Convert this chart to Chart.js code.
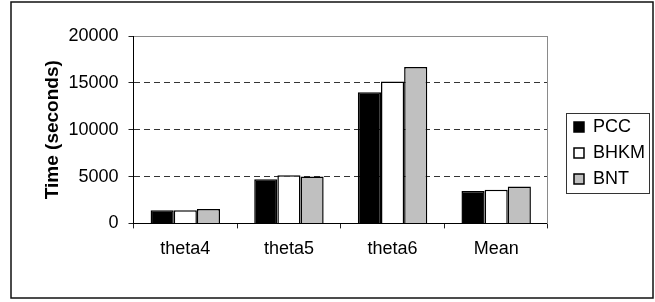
<!DOCTYPE html>
<html>
<head>
<meta charset="utf-8">
<script src="https://cdn.jsdelivr.net/npm/chart.js@4"></script>
<style>
  html, body { margin: 0; padding: 0; background: #fff; }
  #wrap { width: 655px; height: 302px; position: relative; }
</style>
</head>
<body>
<div id="wrap"><canvas id="chart"></canvas></div>
<script>
const categories = ["theta4", "theta5", "theta6", "Mean"];
const pccTimes = [1400, 4700, 14000, 3450];
const bhkmTimes = [1400, 5150, 15150, 3600];
const bntTimes = [1550, 5000, 16700, 3950];
const yTicks = [0, 5000, 10000, 15000, 20000];

const FONT = "'Liberation Sans', Arial, sans-serif";

// outer frame + box round the legend
const framePlugin = {
  id: "frame",
  afterDraw(chart) {
    const ctx = chart.ctx;
    ctx.save();
    ctx.strokeStyle = "#111";
    ctx.lineWidth = 1.5;
    ctx.strokeRect(11, 2, chart.width - 13, chart.height - 6);

    const boxes = chart.legend.legendHitBoxes;
    if (boxes && boxes.length) {
      const first = boxes[0];
      const last = boxes[boxes.length - 1];
      const maxW = Math.max(...boxes.map((b) => b.width));
      ctx.strokeStyle = "#333";
      ctx.lineWidth = 1;
      const left = Math.round(first.left - 8) + 0.5;
      const top = Math.round(first.top - 5) + 0.5;
      const right = Math.round(first.left + maxW + 4) + 0.5;
      const bottom = Math.round(last.top + last.height + 5) + 0.5;
      ctx.strokeRect(left, top, right - left, bottom - top);
    }
    ctx.restore();
  },
};

new Chart(document.getElementById("chart"), {
  type: "bar",
  data: {
    labels: categories,
    datasets: [
      {
        label: "PCC",
        data: pccTimes,
        backgroundColor: "#000000",
        borderColor: "#000000",
        borderWidth: 1.5,
      },
      {
        label: "BHKM",
        data: bhkmTimes,
        backgroundColor: "#ffffff",
        borderColor: "#000000",
        borderWidth: 1.5,
      },
      {
        label: "BNT",
        data: bntTimes,
        backgroundColor: "#c0c0c0",
        borderColor: "#000000",
        borderWidth: 1.5,
      },
    ],
  },
  options: {
    responsive: true,
    maintainAspectRatio: false,
    animation: false,
    datasets: {
      bar: { categoryPercentage: 0.67, barPercentage: 1.0 },
    },
    layout: {
      padding: { left: 37.5, top: 36, right: 0, bottom: 32 },
    },
    plugins: {
      tooltip: { enabled: false },
      legend: {
        position: "right",
        align: "center",
        labels: {
          boxWidth: 10,
          boxHeight: 10,
          padding: 8,
          color: "#000",
          font: { family: FONT, size: 18, lineHeight: 1.33 },
        },
      },
    },
    scales: {
      x: {
        offset: true,
        grid: {
          offset: true,
          drawOnChartArea: false,
          drawTicks: true,
          tickLength: 5,
          tickColor: "#222",
        },
        border: { display: true, color: "#000", width: 1 },
        ticks: {
          color: "#000",
          padding: 10,
          font: { family: FONT, size: 18 },
        },
      },
      xTop: {
        position: "top",
        display: true,
        afterFit: (scale) => {
          scale.height = 0;
        },
        grid: { display: false, drawTicks: false },
        ticks: { display: false },
        border: { display: true, color: "#8a8a8a", width: 1 },
      },
      y: {
        min: 0,
        max: 20000,
        afterBuildTicks: (scale) => {
          scale.ticks = yTicks.map((v) => ({ value: v }));
        },
        afterFit: (scale) => {
          scale.width = 96;
        },
        grid: {
          color: (c) =>
            c.tick.value === 0 || c.tick.value === 20000 ? "rgba(0,0,0,0)" : "#333",
          tickBorderDash: [],
          tickColor: "#222",
          tickLength: 5,
          lineWidth: 1,
        },
        border: { display: true, color: "#000", width: 1, dash: [6, 4] },
        ticks: {
          color: "#000",
          padding: 10,
          font: { family: FONT, size: 18 },
          callback: (v) => String(v),
        },
        title: {
          display: true,
          text: "Time (seconds)",
          color: "#000",
          font: { family: FONT, size: 19, weight: "bold" },
        },
      },
      yRight: {
        position: "right",
        display: true,
        afterFit: (scale) => {
          scale.width = 18;
        },
        grid: { display: false, drawTicks: false },
        ticks: { display: false },
        border: { display: true, color: "#8a8a8a", width: 1 },
      },
    },
  },
  plugins: [framePlugin],
});
</script>
</body>
</html>
